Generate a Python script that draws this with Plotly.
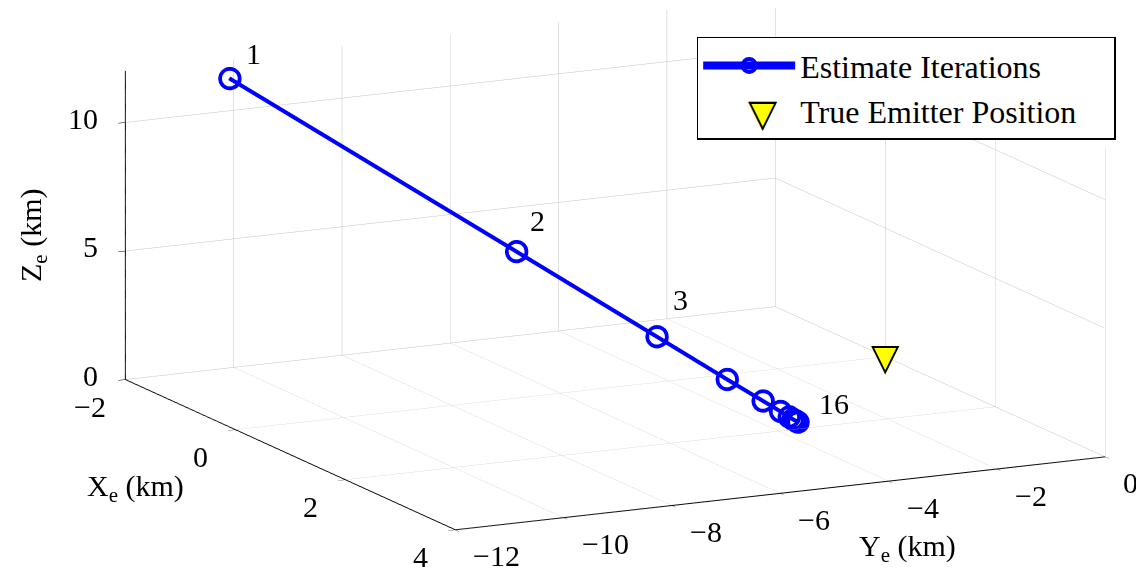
import plotly.graph_objects as go

# ---- data (km) ----
iter_x = [-1.50, 0.14, 0.95, 1.36, 1.57, 1.67, 1.72, 1.74, 1.755, 1.762, 1.766, 1.768, 1.769, 1.770, 1.770, 1.770]
iter_y = [-10.59, -6.96, -5.19, -4.31, -3.86, -3.64, -3.53, -3.48, -3.45, -3.435, -3.428, -3.424, -3.422, -3.421, -3.420, -3.420]
iter_z = [11.87, 5.88, 2.94, 1.47, 0.73, 0.37, 0.18, 0.09, 0.05, 0.02, 0.01, 0.006, 0.003, 0.001, 0.0, 0.0]
label_idx = [0, 1, 2, 15]
label_txt = ["1", "2", "3", "16"]

emitter_x = [0.0]
emitter_y = [0.0]
emitter_z = [0.0]

x_range = [-2, 4]
y_range = [-12, 0]
z_range = [0, 12]
x_ticks = [-2, 0, 2, 4]
y_ticks = [-12, -10, -8, -6, -4, -2, 0]
z_ticks = [0, 5, 10]

# label offsets (pixels) for the iteration numbers
label_dx = [15, 12, 15, 20]
label_dy = [6, 12, 18, 0]

FONT = "Liberation Serif"
BLUE = "#0000ff"
TICK_FONT = dict(family=FONT, size=30, color="black")
TRI_FILL = dict(family="DejaVu Sans", size=37, color="#ffff00")
TRI_EDGE = dict(family="DejaVu Sans", size=37, color="black")


def fmt(v):
    return ("\u2212" + str(abs(v))) if v < 0 else str(v)


fig = go.Figure()
fig.add_trace(go.Scatter3d(
    x=iter_x, y=iter_y, z=iter_z, mode="lines+markers",
    name="Estimate Iterations",
    line=dict(color=BLUE, width=8),
    marker=dict(symbol="circle-open", size=13, color=BLUE, line=dict(color=BLUE, width=4)),
    hoverinfo="skip",
))
# inner ring to thicken the open-circle markers
fig.add_trace(go.Scatter3d(
    x=iter_x, y=iter_y, z=iter_z, mode="markers", showlegend=False,
    marker=dict(symbol="circle-open", size=11.2, color=BLUE),
    hoverinfo="skip",
))
# legend entry for the emitter marker (its symbol is drawn larger by the annotation below)
fig.add_trace(go.Scatter(
    x=[None], y=[None], mode="markers", name="True Emitter Position&nbsp;&nbsp;&nbsp;&nbsp;",
    marker=dict(symbol="triangle-down", size=16, color="rgba(0,0,0,0)",
                line=dict(color="rgba(0,0,0,0)", width=0)),
))

axis_common = dict(
    showbackground=False, showspikes=False, zeroline=False,
    gridcolor="#c4c4c4", gridwidth=1,
    showline=True, linecolor="black", linewidth=2,
    ticks="outside", ticklen=8, tickcolor="black", tickwidth=1,
    showticklabels=False,
    title=dict(text=""),
)

# tick labels as scene annotations anchored at the axis edges
scene_ann = []
for v in x_ticks:
    scene_ann.append(dict(x=v, y=y_range[0], z=z_range[0], text=fmt(v), showarrow=False,
                          xanchor="center", yanchor="middle", xshift=-35, yshift=-27, font=TICK_FONT))
for v in y_ticks:
    scene_ann.append(dict(x=x_range[1], y=v, z=z_range[0], text=fmt(v), showarrow=False,
                          xanchor="left", yanchor="middle", xshift=16, yshift=-26, font=TICK_FONT))
for v in z_ticks:
    scene_ann.append(dict(x=x_range[0], y=y_range[0], z=v, text=fmt(v), showarrow=False,
                          xanchor="right", yanchor="middle", xshift=-25, yshift=4, font=TICK_FONT))
for i, t, dx, dy in zip(label_idx, label_txt, label_dx, label_dy):
    scene_ann.append(dict(x=iter_x[i], y=iter_y[i], z=iter_z[i], text=t, showarrow=False,
                          xanchor="left", yanchor="bottom", xshift=dx, yshift=dy, font=TICK_FONT))
# true emitter position marker (filled yellow triangle with black outline)
for ex, ey, ez in zip(emitter_x, emitter_y, emitter_z):
    scene_ann.append(dict(x=ex, y=ey, z=ez, text="\u25bc", showarrow=False,
                          xanchor="center", yanchor="middle", xshift=0, yshift=-1, font=TRI_FILL))
    scene_ann.append(dict(x=ex, y=ey, z=ez, text="\u25bd", showarrow=False,
                          xanchor="center", yanchor="middle", xshift=0, yshift=-1, font=TRI_EDGE))

# camera: view direction, look-at offset (scene units) and orthographic zoom via aspect ratio
r = 3.0
e = (0.872, -0.433, 0.226)
c = (-0.0324, -0.1210, -0.1070)
k = 2.79 * 1.011 * 1.0195 * 1.008 * 0.8902
fig.update_layout(
    width=1144, height=575,
    margin=dict(l=0, r=0, t=0, b=0),
    paper_bgcolor="white", plot_bgcolor="white",
    font=dict(family=FONT, color="black"),
    xaxis=dict(visible=False), yaxis=dict(visible=False),
    scene=dict(
        domain=dict(x=[0.0, 1.0], y=[0.0, 1.0]),
        xaxis=dict(axis_common, range=x_range, tickvals=x_ticks),
        yaxis=dict(axis_common, range=y_range, tickvals=y_ticks),
        zaxis=dict(axis_common, range=z_range, tickvals=z_ticks),
        aspectmode="manual", aspectratio=dict(x=1 * k, y=0.978 * k, z=0.427 * k),
        camera=dict(eye=dict(x=c[0] + r * e[0], y=c[1] + r * e[1], z=c[2] + r * e[2]),
                    up=dict(x=0, y=0, z=1), center=dict(x=c[0], y=c[1], z=c[2]),
                    projection=dict(type="orthographic")),
        annotations=scene_ann,
    ),
    legend=dict(x=0.602, y=0.95, xanchor="left", yanchor="top",
                bgcolor="white", bordercolor="black", borderwidth=1.5,
                font=dict(family=FONT, size=32, color="black"), itemwidth=92,
                tracegroupgap=0),
    annotations=[
        dict(x=25 / 1144, y=1 - 228 / 575, xref="paper", yref="paper", text="Z<sub>e</sub> (km)",
             xanchor="center", yanchor="middle",
             textangle=-90, showarrow=False, font=dict(family=FONT, size=30)),
        dict(x=127 / 1144, y=1 - 480 / 575, xref="paper", yref="paper", text="X<sub>e</sub> (km)",
             xanchor="center", yanchor="middle",
             showarrow=False, font=dict(family=FONT, size=30)),
        dict(x=899 / 1144, y=1 - 540 / 575, xref="paper", yref="paper", text="Y<sub>e</sub> (km)",
             xanchor="center", yanchor="middle",
             showarrow=False, font=dict(family=FONT, size=30)),
        # enlarged legend symbol for the emitter
        dict(x=755 / 1144, y=1 - 105 / 575, xref="paper", yref="paper", text="\u25bc",
             xanchor="center", yanchor="middle", showarrow=False,
             font=dict(family="DejaVu Sans", size=38, color="#ffff00")),
        dict(x=755 / 1144, y=1 - 105 / 575, xref="paper", yref="paper", text="\u25bd",
             xanchor="center", yanchor="middle", showarrow=False,
             font=dict(family="DejaVu Sans", size=38, color="black")),
    ],
)

fig.write_html("out.html")
